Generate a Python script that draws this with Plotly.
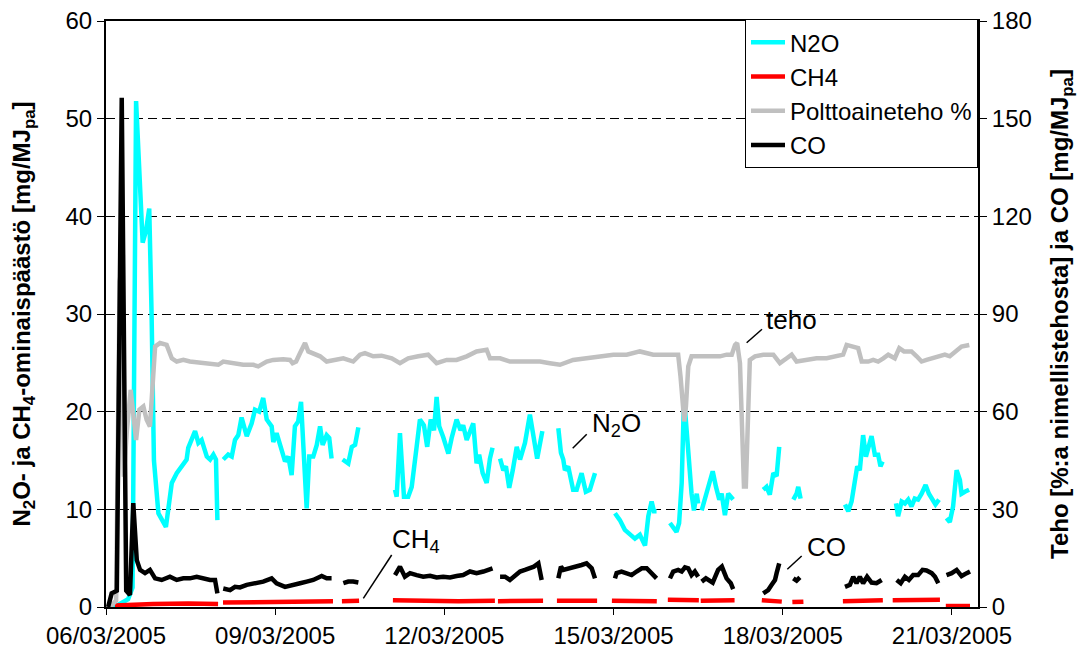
import pandas as pd
import plotly.graph_objects as go

START = pd.Timestamp("2005-03-06 00:00")

# ---------------- data (hours since 06/03/2005 00:00, values) ----------------
# N2O [mg/MJpa] (left axis), measurement segments
n2o_hours = [
    [1.7, 5.1, 9.4, 11.3, 12.8, 15.6, 17.0, 18.4, 19.4, 20.4, 22.3, 25.5, 28.0, 30.1, 34.3, 35.0,
     37.9, 39.3, 40.7, 42.9, 44.3, 45.7, 46.8, 47.4],
    [49.9, 52.0, 53.5, 54.9, 56.3, 57.7, 59.9, 62.0, 63.4, 65.2, 66.9, 68.4, 70.5, 71.2, 72.6, 74.8,
     76.2, 77.6, 79.0, 80.4, 81.8, 83.0, 84.3, 85.4, 86.5, 88.2, 89.7, 91.1, 92.2, 93.9, 95.0, 96.0],
    [100.7, 103.1, 104.6, 106.0, 107.4],
    [123.0, 123.7, 125.1, 126.8, 128.6, 130.1, 132.2, 133.6, 135.3, 136.7, 138.2, 139.6, 140.7, 141.8,
     143.5, 145.7, 147.1, 149.2, 150.9, 152.0, 153.5, 154.9, 156.3, 157.7, 158.8, 160.3, 162.0, 163.4, 164.5],
    [167.7, 169.1, 170.2, 171.6, 173.1, 174.8, 176.2, 178.3, 180.4, 182.1, 183.5, 185.7],
    [192.5, 193.6, 194.6, 195.3, 196.7, 198.8, 200.3, 202.4, 204.2, 205.9, 208.1],
    [216.6, 218.7, 220.8, 223.0, 225.1, 227.2, 229.4, 230.8, 232.2, 233.2, 234.3],
    [240.0, 241.4, 242.8, 243.9, 245.0, 246.0, 246.8, 247.8, 249.2, 250.2, 251.4, 252.0],
    [253.5, 255.3, 256.7, 258.2, 259.6, 261.0, 262.0, 263.4, 264.8, 266.9],
    [279.7, 281.1, 282.5, 284.0, 285.4, 286.5],
    [292.5, 293.9, 294.6, 295.6],
    [314.5, 315.9, 317.3, 318.7, 319.7, 320.8, 322.2, 323.4, 324.8, 325.8, 327.2, 328.6, 329.6, 330.5],
    [336.2, 337.1, 338.6, 340.0, 341.4, 342.8, 344.2, 345.6, 347.1, 348.8, 350.2, 351.6, 353.0, 354.5],
    [357.7, 359.1, 360.5, 362.0, 363.4, 364.1, 365.5, 367.3],
]
n2o_values = [
    [0.0, 0.2, 0.8, 2.0, 51.8, 37.3, 38.5, 40.8, 30.0, 15.0, 9.6, 8.2, 12.7, 13.7, 15.1, 16.3,
     18.0, 16.8, 17.1, 15.4, 15.1, 15.6, 15.1, 8.9],
    [15.1, 15.6, 15.4, 17.1, 17.6, 19.4, 17.5, 18.8, 20.2, 20.0, 21.4, 19.2, 18.5, 16.9, 17.8, 16.1,
     14.9, 15.4, 13.5, 18.5, 19.0, 21.0, 15.4, 10.1, 15.4, 15.4, 16.6, 18.5, 16.6, 17.6, 17.3, 15.2],
    [15.1, 14.7, 16.4, 16.6, 18.4],
    [12.0, 11.3, 17.8, 11.3, 11.3, 12.3, 16.4, 19.2, 18.6, 16.4, 19.2, 18.1, 21.5, 18.5,
     17.4, 15.7, 17.3, 19.2, 18.1, 18.6, 17.1, 18.1, 18.8, 14.7, 15.6, 13.7, 12.7, 15.2, 16.3],
    [15.2, 14.0, 14.4, 12.2, 14.0, 16.4, 15.1, 16.8, 19.7, 16.8, 15.2, 18.0],
    [18.3, 15.8, 15.1, 14.0, 14.4, 12.0, 12.0, 13.7, 11.8, 12.0, 13.7],
    [9.6, 8.9, 7.9, 7.5, 7.0, 7.4, 6.3, 9.3, 10.8, 9.8, 9.8],
    [8.6, 8.1, 7.7, 8.6, 12.7, 21.5, 18.8, 15.4, 11.6, 9.9, 11.6, 10.6],
    [9.9, 11.6, 12.7, 13.9, 12.3, 11.0, 11.6, 9.4, 11.6, 11.0],
    [12.0, 12.3, 11.5, 13.7, 13.4, 16.4],
    [11.0, 11.6, 12.3, 11.1],
    [10.5, 9.8, 10.8, 13.4, 14.4, 14.0, 17.6, 15.4, 16.8, 17.5, 15.6, 15.6, 14.4, 14.9],
    [10.6, 9.3, 10.8, 10.6, 11.0, 10.3, 11.1, 11.0, 11.6, 12.5, 11.6, 11.0, 10.5, 11.0],
    [9.1, 8.7, 10.3, 14.0, 13.0, 11.6, 11.8, 12.0],
]

# CH4 [mg/MJpa] (left axis)
ch4_hours = [
    [3.8, 12.0, 20.0, 35.0, 47.7],
    [49.8, 60.0, 70.0, 85.0, 96.6],
    [100.4, 107.7],
    [122.1, 135.0, 150.0, 165.5],
    [166.8, 186.0],
    [191.9, 209.0],
    [215.3, 234.4],
    [239.1, 252.3],
    [253.1, 267.5],
    [279.1, 283.0, 287.6],
    [292.1, 296.8],
    [313.6, 330.6],
    [334.8, 354.9],
    [357.4, 367.7],
]
ch4_values = [
    [0.15, 0.25, 0.3, 0.35, 0.3],
    [0.45, 0.5, 0.5, 0.6, 0.6],
    [0.6, 0.65],
    [0.7, 0.65, 0.6, 0.65],
    [0.6, 0.65],
    [0.65, 0.65],
    [0.65, 0.6],
    [0.75, 0.7],
    [0.65, 0.7],
    [0.7, 0.65, 0.55],
    [0.5, 0.55],
    [0.6, 0.7],
    [0.7, 0.75],
    [0.1, 0.1],
]

# Polttoaineteho % (right axis), continuous
teho_hours = [
    1.7, 4.3, 5.8, 6.6, 7.6, 8.8, 10.5, 11.5, 12.8, 14.2, 15.9, 17.3, 18.7, 20.9, 23.0, 25.8, 28.0,
    30.1, 32.9, 35.7, 40.0, 44.3, 47.8, 49.9, 54.2, 58.4, 62.7, 64.8, 68.4, 71.2, 75.4, 78.3, 79.4,
    80.9, 82.6, 84.7, 86.1, 88.2, 91.1, 93.9, 96.7, 101.0, 105.2, 108.1, 110.2, 113.7, 117.3, 121.6,
    125.1, 128.6, 132.9, 137.1, 140.7, 145.0, 149.2, 153.5, 157.7, 162.0, 163.4, 167.7, 171.9, 176.2,
    180.4, 184.7, 188.9, 193.2, 198.8, 204.5, 210.2, 215.9, 221.6, 227.2, 232.9, 238.6, 243.5, 244.5,
    245.4, 246.1, 246.8, 247.8, 249.2, 252.8, 257.0, 261.3, 264.1, 266.3, 267.7, 268.6, 269.8, 270.5,
    271.5, 272.3, 273.3, 274.0, 276.2, 279.7, 284.0, 286.8, 289.7, 291.8, 293.9, 298.2, 302.4, 306.7,
    310.9, 313.7, 315.2, 317.3, 320.1, 321.6, 324.4, 326.5, 328.6, 330.8, 332.9, 335.7, 337.6, 339.6,
    342.8, 345.0, 347.1, 349.2, 352.0, 354.9, 357.0, 359.1, 362.0, 364.1, 367.4,
]
teho_values = [
    0.0, 2.0, 100.0, 104.0, 40.0, 53.4, 66.7, 60.0, 51.3, 60.6, 61.6, 57.5, 55.4, 80.0, 81.1, 80.5, 76.4,
    75.4, 75.9, 75.4, 75.1, 74.9, 74.4, 75.4, 74.9, 74.4, 74.4, 73.9, 75.4, 75.9, 76.1, 75.9, 74.9,
    75.4, 78.0, 81.1, 78.5, 78.0, 77.0, 75.4, 75.9, 76.4, 75.4, 77.5, 78.0, 77.0, 77.2, 76.4,
    74.9, 76.4, 77.0, 77.5, 74.9, 75.9, 75.9, 77.0, 78.5, 79.0, 76.4, 76.4, 75.4, 75.4,
    75.4, 75.4, 74.9, 74.4, 75.9, 76.4, 77.0, 77.5, 77.5, 78.5, 77.5, 77.5, 77.5, 70.8,
    61.6, 57.0, 61.6, 73.9, 77.0, 77.0, 77.0, 77.0, 77.5, 77.5, 80.5, 81.1, 74.9, 59.5,
    37.0, 37.0, 64.6, 75.9, 77.0, 77.5, 77.5, 74.9, 76.4, 77.5, 75.4, 75.9, 76.4, 76.4,
    77.0, 77.5, 80.5, 80.0, 79.5, 75.4, 75.4, 75.9, 75.4, 76.4, 77.5, 76.4, 79.5, 78.5,
    78.5, 77.0, 75.4, 75.9, 76.4, 77.0, 77.5, 77.0, 78.5, 80.0, 80.5,
]

# CO [mg/MJpa] (right axis)
co_hours = [
    [0.9, 2.4, 3.8, 4.6, 6.7, 8.6, 10.2, 11.6, 13.1, 14.5, 16.6, 18.7, 20.9, 23.7, 27.2, 30.1, 32.9,
     35.7, 38.6, 41.4, 44.3, 46.4, 47.4],
    [49.9, 52.8, 54.9, 57.0, 59.9, 62.7, 66.9, 70.5, 72.6, 76.2, 79.0, 82.6, 85.4, 88.2, 91.8, 93.9, 96.0],
    [101.0, 103.1, 105.2, 107.4],
    [123.0, 125.1, 127.2, 129.4, 132.2, 135.0, 137.9, 140.7, 143.5, 146.4, 149.2, 152.0, 154.9, 157.7,
     160.6, 162.7, 164.5],
    [167.7, 169.8, 171.9, 174.0, 176.2, 178.3, 180.4, 182.1, 184.0, 185.4],
    [192.5, 193.6, 194.6, 197.4, 200.3, 202.4, 204.5, 206.7, 208.1],
    [216.6, 217.3, 219.4, 221.6, 223.7, 225.8, 228.0, 230.1, 232.2, 234.3],
    [240.0, 241.4, 243.5, 245.0, 246.4, 247.8, 249.2, 250.6, 252.0],
    [253.5, 255.3, 258.2, 260.5, 262.1, 264.1, 265.9, 266.9],
    [279.7, 281.8, 283.3, 284.7, 285.4, 286.5],
    [292.5, 293.9, 295.3],
    [314.5, 316.6, 318.0, 319.4, 320.8, 322.2, 323.9, 325.8, 327.9, 330.1],
    [336.5, 338.2, 340.0, 341.7, 343.5, 345.6, 347.5, 349.2, 351.4, 352.8, 354.2],
    [357.7, 359.9, 362.0, 364.1, 366.3, 367.7],
]
co_values = [
    [0.0, 4.2, 4.7, 5.0, 156.4, 5.0, 3.7, 31.9, 14.4, 11.4, 10.4, 11.4, 8.8, 8.3, 9.3, 8.3, 8.8,
     8.8, 9.3, 8.8, 8.3, 8.3, 4.2],
    [5.7, 5.2, 6.2, 6.0, 6.8, 7.3, 7.8, 8.8, 7.3, 6.2, 6.8, 7.3, 7.8, 8.3, 9.5, 8.8, 8.8],
    [7.3, 7.8, 7.8, 7.5],
    [9.8, 12.4, 9.3, 10.4, 9.8, 9.3, 9.6, 9.1, 9.3, 9.1, 9.5, 9.8, 10.9, 10.4, 10.9, 11.4, 11.9],
    [9.3, 9.3, 8.3, 9.8, 10.9, 11.4, 11.9, 12.4, 13.4, 8.3],
    [8.8, 12.4, 11.4, 11.9, 12.2, 12.9, 13.4, 11.9, 8.8],
    [8.8, 10.4, 10.9, 10.5, 9.8, 10.9, 11.9, 11.9, 10.4, 8.8],
    [8.8, 10.9, 11.4, 10.9, 12.2, 11.9, 9.8, 10.9, 9.3],
    [7.8, 8.8, 7.5, 11.4, 12.4, 8.8, 7.3, 5.5],
    [4.2, 5.2, 6.8, 8.3, 10.4, 13.4],
    [8.8, 8.1, 9.1],
    [6.2, 6.8, 9.3, 7.3, 9.3, 7.3, 9.3, 7.5, 7.3, 8.3],
    [8.3, 7.3, 9.3, 8.3, 9.8, 9.8, 11.4, 11.2, 10.4, 9.3, 7.3],
    [9.8, 10.4, 11.4, 9.5, 10.4, 10.9],
]

x_tick_dates = ["2005-03-06", "2005-03-09", "2005-03-12", "2005-03-15", "2005-03-18", "2005-03-21"]
x_end = "2005-03-21 11:06"


def join_segments(hour_segs, val_segs):
    xs, ys = [], []
    for hs, vs in zip(hour_segs, val_segs):
        if xs:
            xs.append(None)
            ys.append(None)
        xs.extend(START + pd.Timedelta(hours=h) for h in hs)
        ys.extend(vs)
    return xs, ys


FONT = "Liberation Sans, Arial, sans-serif"
LW = 4.5

fig = go.Figure()
x, y = join_segments(n2o_hours, n2o_values)
fig.add_trace(go.Scatter(x=x, y=y, name="N2O", mode="lines", line=dict(color="#00FFFF", width=LW),
                         connectgaps=False, yaxis="y"))
x, y = join_segments(ch4_hours, ch4_values)
fig.add_trace(go.Scatter(x=x, y=y, name="CH4", mode="lines", line=dict(color="#FF0000", width=LW),
                         connectgaps=False, yaxis="y"))
fig.add_trace(go.Scatter(x=[START + pd.Timedelta(hours=h) for h in teho_hours], y=teho_values,
                         name="Polttoaineteho %", mode="lines", line=dict(color="#C0C0C0", width=LW),
                         yaxis="y2"))
x, y = join_segments(co_hours, co_values)
fig.add_trace(go.Scatter(x=x, y=y, name="CO", mode="lines", line=dict(color="#000000", width=LW),
                         connectgaps=False, yaxis="y2"))

axis_common = dict(showline=True, linecolor="black", linewidth=2, ticks="outside",
                   tickcolor="black", tickwidth=1, tickfont=dict(family=FONT, size=24, color="black"))

fig.update_layout(
    width=1081, height=660,
    margin=dict(l=106, r=103, t=21, b=53, autoexpand=False),
    paper_bgcolor="white", plot_bgcolor="white",
    font=dict(family=FONT, color="black"),
    showlegend=True,
    legend=dict(x=1.0, xanchor="right", y=1.003, yanchor="top", bgcolor="white",
                bordercolor="black", borderwidth=1, font=dict(family=FONT, size=24, color="black"),
                itemwidth=34),
    xaxis=dict(type="date", range=["2005-03-06 00:00", x_end], tickvals=x_tick_dates,
               tickformat="%d/%m/%Y", showgrid=False, mirror=True, ticklen=6, zeroline=False,
               **axis_common),
    yaxis=dict(range=[0, 60], dtick=10, tick0=0, ticklen=7, showgrid=True, gridcolor="black",
               gridwidth=1, griddash="9px,5px", zeroline=False,
               title=dict(text="<b>N<sub>2</sub>O- ja CH<sub>4</sub>-ominaispäästö [mg/MJ<sub>pa</sub>]</b>",
                          font=dict(family=FONT, size=24, color="black"), standoff=28),
               **axis_common),
    yaxis2=dict(range=[0, 180], dtick=30, tick0=0, ticklen=7, overlaying="y", side="right",
                showgrid=False, zeroline=False,
                title=dict(text="<b>Teho [%:a nimellistehosta] ja CO [mg/MJ<sub>pa</sub>]</b>",
                           font=dict(family=FONT, size=24, color="black"), standoff=20),
                **axis_common),
)

# text labels with leader lines (paper coordinates)
labels = [
    ("teho", 0.7856, 0.4898, (0.7347, 0.4510, 0.7523, 0.4739)),
    ("N<sub>2</sub>O", 0.5857, 0.3106, (0.5352, 0.2708, 0.5513, 0.2947)),
    ("CH<sub>4</sub>", 0.3555, 0.1140, (0.2951, 0.0148, 0.3276, 0.0887)),
    ("CO", 0.8268, 0.1024, (0.7813, 0.0643, 0.7978, 0.0870)),
]
for text, tx, ty, (x0, y0, x1, y1) in labels:
    fig.add_annotation(text=text, x=tx, y=ty, xref="paper", yref="paper", showarrow=False,
                       font=dict(family=FONT, size=26, color="black"), xanchor="center", yanchor="middle")
    fig.add_shape(type="line", xref="paper", yref="paper", x0=x0, y0=y0, x1=x1, y1=y1,
                  line=dict(color="black", width=1.5))

fig.write_html("out.html", config={"displayModeBar": False},
               post_script="document.body.style.margin='0';document.body.style.padding='0';")
